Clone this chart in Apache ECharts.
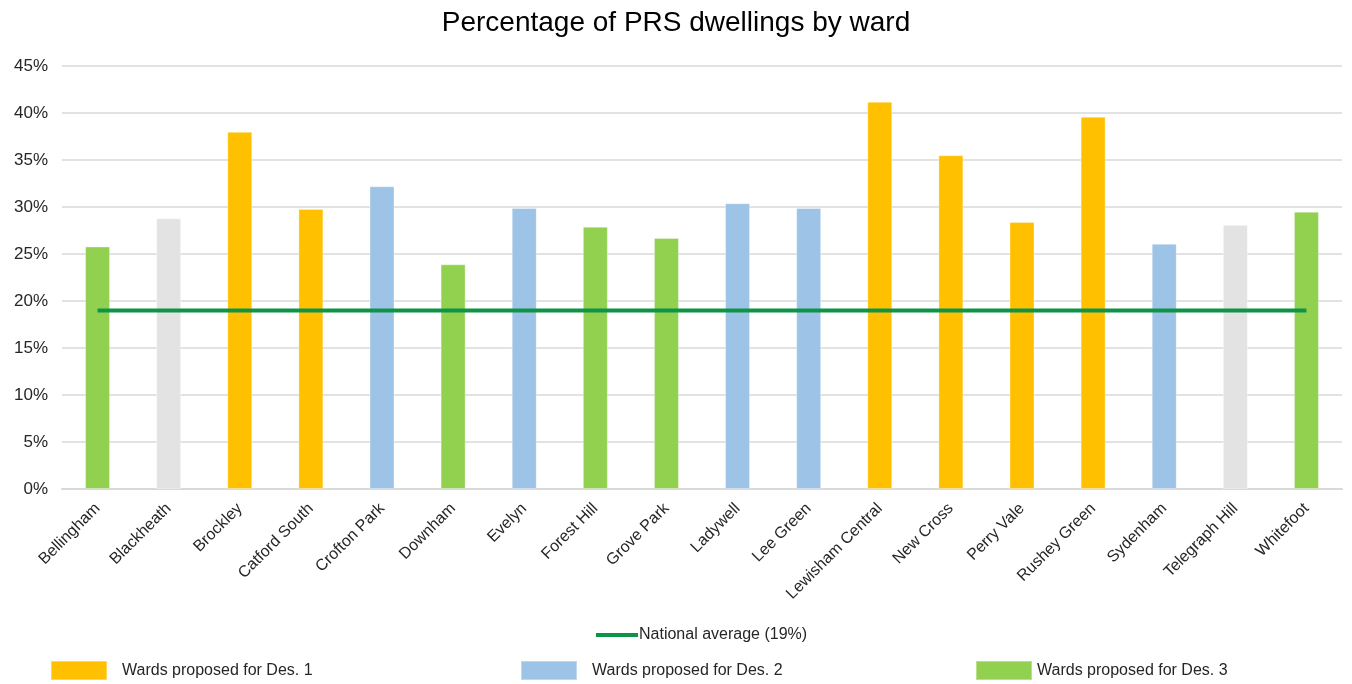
<!DOCTYPE html>
<html>
<head>
<meta charset="utf-8">
<script src="https://cdn.jsdelivr.net/npm/echarts@6/dist/echarts.min.js"></script>
<style>
  html, body { margin: 0; padding: 0; background: #fff; }
  #chart { width: 1352px; height: 684px; }
</style>
</head>
<body>
<div id="chart"></div>
<script>
// Wards and the share of dwellings that are privately rented (%)
const wards = ['Bellingham', 'Blackheath', 'Brockley', 'Catford South', 'Crofton Park', 'Downham',
  'Evelyn', 'Forest Hill', 'Grove Park', 'Ladywell', 'Lee Green', 'Lewisham Central',
  'New Cross', 'Perry Vale', 'Rushey Green', 'Sydenham', 'Telegraph Hill', 'Whitefoot'];
const prsShare = [25.8, 28.8, 38.0, 29.8, 32.2, 23.9, 29.9, 27.9, 26.7, 30.4, 29.9, 41.2,
  35.5, 28.4, 39.6, 26.1, 28.1, 29.5];
// Proposed designation per ward (0 = not proposed)
const designation = [3, 0, 1, 1, 2, 3, 2, 3, 3, 2, 2, 1, 1, 1, 1, 2, 0, 3];
const nationalAverage = 19;
const yTicks = [0, 5, 10, 15, 20, 25, 30, 35, 40, 45];

const groupNames = ['', 'Wards proposed for Des. 1', 'Wards proposed for Des. 2', 'Wards proposed for Des. 3'];
const groupColors = ['#E3E3E3', '#FFC000', '#9DC3E6', '#92D050'];
const avgName = 'National average (19%)';

function groupData(g) {
  return prsShare.map((v, i) => designation[i] === g ? v : null);
}

const barSeries = [1, 2, 3, 0].map(g => ({
  name: g === 0 ? 'Other wards' : groupNames[g],
  type: 'bar',
  stack: 'wards',
  barWidth: 25,
  data: groupData(g),
  itemStyle: { color: groupColors[g], borderColor: 'rgba(255,255,255,0.35)', borderWidth: 1 },
  emphasis: { disabled: true }
}));

const fontFamily = 'Liberation Sans, Arial, sans-serif';
const legendText = { fontSize: 16, color: '#262626', fontFamily };

const chart = echarts.init(document.getElementById('chart'), null, { renderer: 'canvas' });
chart.setOption({
  animation: false,
  title: {
    text: 'Percentage of PRS dwellings by ward',
    left: 'center',
    top: 9,
    padding: 0,
    textStyle: { fontSize: 28, fontWeight: 'normal', color: '#000', fontFamily }
  },
  grid: { left: 62, right: 10, top: 66, bottom: 195 },
  legend: [
    {
      data: [avgName],
      left: 596, top: 627, padding: 0,
      itemWidth: 42, itemHeight: 16, itemGap: 0,
      textStyle: Object.assign({ padding: [0, 0, 0, -4] }, legendText),
      icon: 'path://M0,7 L42,7 L42,11 L0,11 Z'
    },
    {
      data: [groupNames[1]], left: 50, top: 660, padding: 0,
      itemWidth: 56, itemHeight: 19, icon: 'rect',
      textStyle: Object.assign({ padding: [0, 0, 0, 10] }, legendText)
    },
    {
      data: [groupNames[2]], left: 520, top: 660, padding: 0,
      itemWidth: 56, itemHeight: 19, icon: 'rect',
      textStyle: Object.assign({ padding: [0, 0, 0, 10] }, legendText)
    },
    {
      data: [groupNames[3]], left: 975, top: 660, padding: 0,
      itemWidth: 56, itemHeight: 19, icon: 'rect',
      textStyle: Object.assign({ padding: [0, 0, 0, 0] }, legendText)
    }
  ],
  xAxis: {
    type: 'category',
    data: wards,
    boundaryGap: true,
    axisLine: { lineStyle: { color: '#D9D9D9', width: 2 } },
    axisTick: { show: false },
    axisLabel: {
      interval: 0, rotate: 45, margin: 17,
      fontSize: 16, color: '#262626', fontFamily
    }
  },
  yAxis: {
    type: 'value',
    min: yTicks[0], max: yTicks[yTicks.length - 1], interval: 5,
    axisLine: { show: false },
    axisTick: { show: false },
    splitLine: { lineStyle: { color: '#D9D9D9', width: 1.5 } },
    axisLabel: {
      formatter: v => v + '%', margin: 14,
      fontSize: 17, color: '#262626', fontFamily
    }
  },
  series: barSeries.concat([{
    name: avgName,
    type: 'line',
    data: wards.map(() => nationalAverage),
    symbol: 'none',
    lineStyle: { color: '#0E9447', width: 4 },
    itemStyle: { color: '#0E9447' },
    z: 5,
    emphasis: { disabled: true }
  }])
});
</script>
</body>
</html>
